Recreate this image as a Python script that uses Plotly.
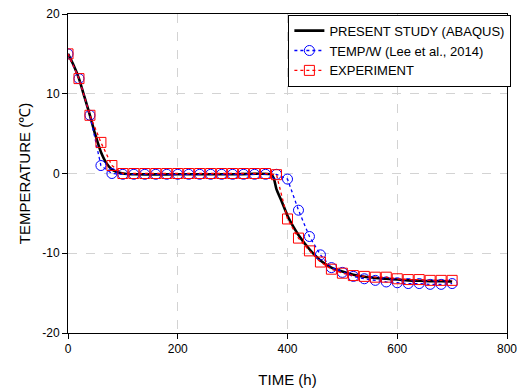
import plotly.graph_objects as go

# Marker series (every 20 h)
time_pts = [0, 20, 40, 60, 80, 100, 120, 140, 160, 180, 200, 220, 240, 260, 280, 300,
            320, 340, 360, 380, 400, 420, 440, 460, 480, 500, 520, 540, 560, 580, 600,
            620, 640, 660, 680, 700]
tempw = [15.0, 11.9, 7.3, 1.0, 0.0, -0.1, -0.1, -0.1, -0.1, -0.1, -0.1, -0.1, -0.1, -0.1,
         -0.1, -0.1, -0.1, -0.1, -0.1, -0.1, -0.7, -4.6, -7.9, -10.2, -11.8, -12.4, -12.9,
         -13.2, -13.4, -13.6, -13.7, -13.8, -13.8, -13.9, -13.9, -13.8]
experiment = [15.0, 11.9, 7.3, 3.9, 1.0, 0.0, 0.0, 0.0, 0.0, 0.0, 0.0, 0.0, 0.0, 0.0,
              0.0, 0.0, 0.0, 0.0, 0.0, -0.15, -5.7, -8.1, -9.7, -11.1, -12.0, -12.5, -12.8,
              -12.9, -13.0, -13.0, -13.2, -13.3, -13.3, -13.4, -13.4, -13.4]

# Simulation curve
sim_time = [0, 10, 20, 30, 40, 50, 60, 70, 80, 90, 100, 120, 200, 300, 370, 375, 380,
            390, 400, 410, 420, 440, 460, 480, 500, 520, 540, 560, 580, 600, 620, 640,
            660, 680, 700]
sim_temp = [15.0, 13.6, 11.9, 9.6, 7.3, 4.8, 2.7, 1.3, 0.5, 0.15, 0.0, -0.1, -0.1, -0.1,
            -0.1, -0.6, -2.0, -3.6, -5.3, -6.6, -7.7, -9.5, -10.9, -11.8, -12.3, -12.7,
            -12.95, -13.1, -13.2, -13.3, -13.4, -13.45, -13.5, -13.5, -13.55]

x_ticks = [0, 200, 400, 600, 800]
x_tick_labels = ["0", "200", "400", "600", "800"]
y_ticks = [-20, -10, 0, 10, 20]
y_tick_labels = ["-20", "-10", "0", "10", "20"]

font = "Arial, Liberation Sans, sans-serif"

fig = go.Figure()
fig.add_trace(go.Scatter(
    x=sim_time, y=sim_temp, mode="lines", name="PRESENT STUDY (ABAQUS)",
    line=dict(color="black", width=2.6, shape="spline", smoothing=0.5)))
fig.add_trace(go.Scatter(
    x=time_pts, y=tempw, mode="lines+markers", name="TEMP/W (Lee et al., 2014)",
    line=dict(color="blue", width=1.3, dash="dot"),
    marker=dict(symbol="circle-open", size=10, color="blue", line=dict(width=1))))
fig.add_trace(go.Scatter(
    x=time_pts, y=experiment, mode="lines+markers", name="EXPERIMENT",
    line=dict(color="red", width=1.3, dash="dot"),
    marker=dict(symbol="square-open", size=10, color="red", line=dict(width=1))))

axis_common = dict(
    showline=True, linecolor="black", linewidth=1, mirror=True,
    ticks="outside", ticklen=5, tickcolor="black", tickwidth=1,
    showgrid=True, gridcolor="#d3d3d3", gridwidth=1, griddash="dash",
    zeroline=False, automargin=False,
    tickfont=dict(family=font, size=12, color="black"),
)

fig.update_xaxes(range=[0, 800], tickvals=x_ticks, ticktext=x_tick_labels, **axis_common,
                 title=dict(text="TIME (h)", font=dict(family=font, size=15, color="black"),
                            standoff=19))
fig.update_yaxes(range=[-20, 20], tickvals=y_ticks, ticktext=y_tick_labels, **axis_common,
                 title=dict(text="TEMPERATURE (℃)", font=dict(family=font, size=15, color="black"),
                            standoff=8))

fig.update_layout(
    width=527, height=390,
    margin=dict(l=68, r=20, t=14, b=57, autoexpand=False),
    paper_bgcolor="white", plot_bgcolor="white",
    font=dict(family=font, color="black"),
    legend=dict(x=0.502, y=0.998, xanchor="left", yanchor="top",
                bgcolor="white", bordercolor="black", borderwidth=1,
                font=dict(family=font, size=13, color="black"),
                tracegroupgap=0, itemwidth=30),
    showlegend=True,
)

# remove the page's default body margin so the figure sits at the window origin
fig.write_html("out.html",
               config={"displayModeBar": False},
               post_script="document.body.style.margin='0';document.body.style.overflow='hidden';")
